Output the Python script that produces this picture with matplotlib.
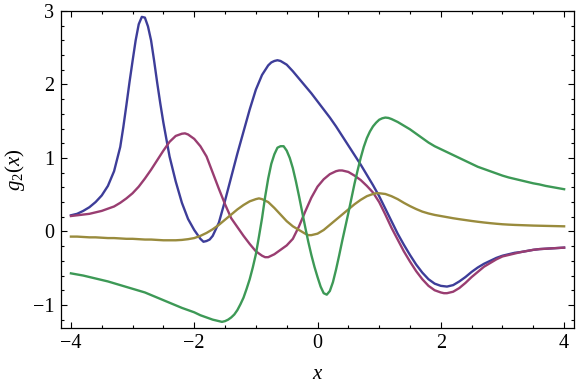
import numpy as np
import matplotlib
matplotlib.use('Agg')
import matplotlib.pyplot as plt
from matplotlib.ticker import MultipleLocator

# sample positions, step 0.1 from -4 to 4
x = np.linspace(-4, 4, 81)

blue = [0.22, 0.24, 0.28, 0.33, 0.40, 0.49, 0.62, 0.82, 1.15, 1.72,
        2.32, 2.82, 2.91, 2.60, 2.02, 1.48, 1.02, 0.68, 0.39, 0.17,
        0.02, -0.10, -0.13, -0.06, 0.12, 0.42, 0.74, 1.06, 1.36, 1.66,
        1.93, 2.13, 2.26, 2.32, 2.32, 2.27, 2.18, 2.08, 1.98, 1.88,
        1.77, 1.66, 1.55, 1.43, 1.30, 1.17, 1.04, 0.91, 0.77, 0.63,
        0.48, 0.31, 0.14, -0.03, -0.18, -0.32, -0.45, -0.56, -0.65, -0.71,
        -0.74, -0.75, -0.73, -0.68, -0.62, -0.55, -0.49, -0.44, -0.40, -0.36,
        -0.33, -0.31, -0.29, -0.28, -0.265, -0.25, -0.24, -0.235, -0.23, -0.225,
        -0.22]

magenta = [0.21, 0.22, 0.23, 0.24, 0.26, 0.28, 0.31, 0.34, 0.39, 0.45,
           0.52, 0.61, 0.72, 0.84, 0.97, 1.10, 1.22, 1.30, 1.33, 1.32,
           1.26, 1.16, 1.02, 0.80, 0.58, 0.37, 0.18, 0.06, -0.06, -0.17,
           -0.27, -0.33, -0.35, -0.31, -0.25, -0.19, -0.10, 0.07, 0.27, 0.46,
           0.61, 0.71, 0.78, 0.82, 0.83, 0.81, 0.76, 0.70, 0.62, 0.53,
           0.40, 0.23, 0.05, -0.11, -0.27, -0.41, -0.54, -0.65, -0.74, -0.80,
           -0.83, -0.84, -0.82, -0.77, -0.70, -0.62, -0.55, -0.48, -0.43, -0.38,
           -0.34, -0.32, -0.30, -0.28, -0.265, -0.25, -0.24, -0.235, -0.23, -0.225,
           -0.22]

olive = [-0.07, -0.07, -0.075, -0.08, -0.08, -0.085, -0.09, -0.09, -0.095, -0.10,
         -0.10, -0.105, -0.11, -0.11, -0.115, -0.12, -0.12, -0.12, -0.115, -0.105,
         -0.09, -0.06, -0.02, 0.03, 0.09, 0.16, 0.23, 0.30, 0.36, 0.41,
         0.44, 0.44, 0.40, 0.32, 0.23, 0.14, 0.07, 0.02, -0.03, -0.05,
         -0.03, 0.02, 0.09, 0.16, 0.23, 0.30, 0.37, 0.43, 0.48, 0.51,
         0.52, 0.51, 0.48, 0.44, 0.39, 0.345, 0.305, 0.27, 0.245, 0.225,
         0.21, 0.195, 0.18, 0.167, 0.155, 0.143, 0.132, 0.122, 0.113, 0.105,
         0.098, 0.093, 0.089, 0.086, 0.083, 0.08, 0.078, 0.076, 0.074, 0.072,
         0.07]

green = [-0.57, -0.585, -0.60, -0.62, -0.64, -0.66, -0.68, -0.705, -0.73, -0.755,
         -0.78, -0.805, -0.83, -0.865, -0.90, -0.935, -0.97, -1.005, -1.04, -1.07,
         -1.10, -1.14, -1.17, -1.20, -1.22, -1.22, -1.17, -1.07, -0.90, -0.65,
         -0.31, 0.18, 0.72, 1.05, 1.16, 1.10, 0.86, 0.48, 0.06, -0.32,
         -0.62, -0.84, -0.81, -0.52, -0.13, 0.25, 0.65, 1.00, 1.27, 1.43,
         1.52, 1.55, 1.53, 1.49, 1.44, 1.39, 1.33, 1.27, 1.21, 1.16,
         1.12, 1.08, 1.04, 1.00, 0.96, 0.92, 0.88, 0.85, 0.82, 0.79,
         0.76, 0.735, 0.715, 0.695, 0.675, 0.655, 0.64, 0.62, 0.605, 0.59,
         0.575]

# extra readings around the sharp peaks and dips
blue_xx = [-3.15, -3.05, -2.95, -2.85, -2.75, -2.65, -2.55, -1.85, -1.75, -0.75, -0.65]
blue_xy = [1.42, 2.03, 2.60, 2.92, 2.79, 2.32, 1.74, -0.14, -0.11, 2.30, 2.33]

magenta_xx = [-2.15, -0.85, 0.35, 2.05]
magenta_xy = [1.335, -0.35, 0.83, -0.84]

olive_xx = [-0.95, 0.95, -0.15]
olive_xy = [0.45, 0.52, -0.05]

green_xx = [-1.55, -1.45, -1.35, -1.25, -1.15, -1.05, -0.95, -0.85, -0.75, -0.65,
            -0.55, -0.45, -0.35, -0.25, -0.15, -0.05, 0.05, 0.15, 0.25, 0.35,
            0.45, 0.55, 0.65, 0.75, 0.85, 0.95, 1.05, 1.15]
green_xy = [-1.23, -1.20, -1.13, -0.99, -0.78, -0.49, -0.07, 0.47, 0.92, 1.14,
            1.16, 1.00, 0.68, 0.27, -0.14, -0.48, -0.75, -0.86, -0.69, -0.33,
            0.06, 0.45, 0.83, 1.15, 1.36, 1.48, 1.54, 1.545]

series = [(blue, blue_xx, blue_xy), (magenta, magenta_xx, magenta_xy),
          (olive, olive_xx, olive_xy), (green, green_xx, green_xy)]
colors = ['#3d3d99', '#993d71', '#998b3d', '#3d9956']

plt.rcParams['font.family'] = ['Liberation Serif', 'DejaVu Serif']
plt.rcParams['mathtext.fontset'] = 'custom'
plt.rcParams['mathtext.rm'] = 'Liberation Serif'
plt.rcParams['mathtext.it'] = 'Liberation Serif:italic'

fig = plt.figure(figsize=(5.76, 3.86), dpi=100)
ax = fig.add_axes([0.106, 0.150, 0.8905, 0.8215])

for (ys, ex, ey), c in zip(series, colors):
    xs = np.concatenate([x, ex])
    yy = np.concatenate([ys, ey])
    order = np.argsort(xs)
    ax.plot(xs[order], yy[order], color=c, lw=1.7, solid_joinstyle='round')

ax.set_xlim(-4.16, 4.16)
ax.set_ylim(-1.315, 3.0)
ax.xaxis.set_major_locator(MultipleLocator(2))
ax.xaxis.set_minor_locator(MultipleLocator(0.5))
ax.yaxis.set_major_locator(MultipleLocator(1))
ax.yaxis.set_minor_locator(MultipleLocator(0.2))
ax.tick_params(which='both', direction='in', top=True, right=True,
               labelsize=14.5, width=0.8)
ax.tick_params(which='major', length=4.5)
ax.tick_params(which='minor', length=2.5)
ax.tick_params(axis='x', pad=4)
ax.tick_params(axis='y', pad=5)
for s in ax.spines.values():
    s.set_linewidth(0.9)

ax.set_xlabel(r'$x$', fontsize=15, labelpad=9)
ax.set_ylabel(r'$g_2(x)$', fontsize=15, labelpad=4)

fig.savefig('out.png', dpi=100)
